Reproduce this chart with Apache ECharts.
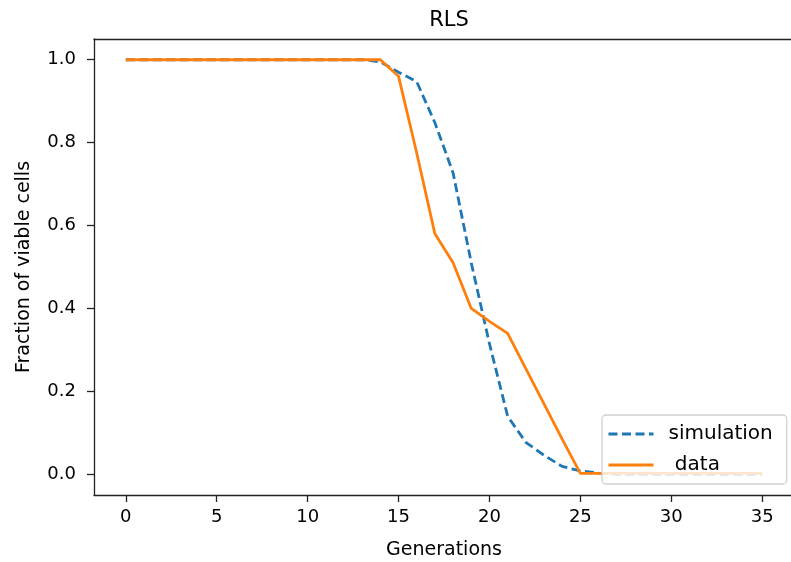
<!DOCTYPE html>
<html>
<head>
<meta charset="utf-8">
<script src="https://cdn.jsdelivr.net/npm/echarts@6/dist/echarts.min.js"></script>
<style>
  html, body { margin: 0; padding: 0; background: #fff; }
  #chart { width: 791px; height: 562px; }
</style>
</head>
<body>
<div id="chart"></div>
<script>
// Generation numbers shared by both curves
const generations = [0,1,2,3,4,5,6,7,8,9,10,11,12,13,14,15,16,17,18,19,20,21,22,23,24,25,26,27,28,29,30,31,32,33,34,35];

// Simulated fraction of viable cells per generation
const simulation = [1,1,1,1,1,1,1,1,1,1,1,1,1,1,0.995,0.97,0.947,0.848,0.727,0.51,0.315,0.14,0.077,0.046,0.019,0.008,0.003,0,0,0,0,0,0,0,0,0];

// Measured fraction of viable cells per generation
const data = [1,1,1,1,1,1,1,1,1,1,1,1,1,1,1,0.96,0.775,0.58,0.51,0.40,0.369,0.34,0.255,0.17,0.085,0.002,0.002,0.002,0.002,0.002,0.002,0.002,0.002,0.002,0.002,0.002];

const xTicks = [0,5,10,15,20,25,30,35];
const yTicks = [0,0.2,0.4,0.6,0.8,1.0];

const FONT = 'DejaVu Sans';
const SPINE = { color: '#222', width: 1.3 };
const pairs = (ys) => generations.map((g, i) => [g, ys[i]]);

const chart = echarts.init(document.getElementById('chart'), null, { renderer: 'canvas' });
chart.setOption({
  animation: false,
  backgroundColor: '#fff',
  title: {
    text: 'RLS',
    left: 444,
    top: 5,
    textAlign: 'center',
    textStyle: { fontFamily: FONT, fontSize: 21, fontWeight: 'normal', color: '#000' }
  },
  grid: {
    left: 94, top: 39, width: 700, height: 456,
    outerBoundsMode: 'none',
    containLabel: false,
    show: false
  },
  legend: {
    orient: 'vertical',
    left: 602, top: 415,
    padding: [9, 14, 9, 5],
    itemWidth: 45, itemHeight: 14, itemGap: 11,
    itemStyle: { opacity: 0 },
    lineStyle: { width: 3 },
    backgroundColor: 'rgba(255,255,255,0.8)',
    borderColor: '#d0d0d0', borderWidth: 1.3, borderRadius: 4,
    textStyle: { fontFamily: FONT, fontSize: 20, color: '#000', padding: [0, 0, 0, 10] },
    data: [
      { name: 'simulation' },
      { name: ' data' }
    ]
  },
  xAxis: [
    {
      type: 'value',
      position: 'bottom',
      min: -1.75, max: 36.75,
      name: 'Generations',
      nameLocation: 'middle',
      nameGap: 46,
      nameTextStyle: { fontFamily: FONT, fontSize: 19, color: '#000' },
      axisLine: { show: true, onZero: false, lineStyle: SPINE },
      axisTick: { show: true, length: 7, customValues: xTicks, lineStyle: SPINE },
      axisLabel: { customValues: xTicks, margin: 13, fontFamily: FONT, fontSize: 18, color: '#000' },
      splitLine: { show: false }
    },
    {
      // top frame line
      type: 'value',
      position: 'top',
      min: -1.75, max: 36.75,
      axisLine: { show: true, onZero: false, lineStyle: SPINE },
      axisTick: { show: false },
      axisLabel: { show: false },
      splitLine: { show: false }
    }
  ],
  yAxis: {
    type: 'value',
    min: -0.05, max: 1.05,
    name: 'Fraction of viable cells',
    nameLocation: 'middle',
    nameGap: 60,
    nameRotate: 90,
    nameTextStyle: { fontFamily: FONT, fontSize: 19, color: '#000' },
    axisLine: { show: true, onZero: false, lineStyle: SPINE },
    axisTick: { show: true, length: 7, customValues: yTicks, lineStyle: SPINE },
    axisLabel: {
      customValues: yTicks, margin: 18, fontFamily: FONT, fontSize: 18, color: '#000',
      formatter: (v) => v.toFixed(1)
    },
    splitLine: { show: false }
  },
  series: [
    {
      name: 'simulation',
      type: 'line',
      xAxisIndex: 0,
      data: pairs(simulation),
      symbol: 'none',
      lineStyle: { color: '#1f77b4', width: 2.8, type: [9, 4.5] },
      itemStyle: { color: '#1f77b4' },
      z: 2
    },
    {
      name: ' data',
      type: 'line',
      xAxisIndex: 0,
      data: pairs(data),
      symbol: 'none',
      lineStyle: { color: '#ff7f0e', width: 2.8 },
      itemStyle: { color: '#ff7f0e' },
      z: 3
    }
  ]
});
</script>
</body>
</html>
